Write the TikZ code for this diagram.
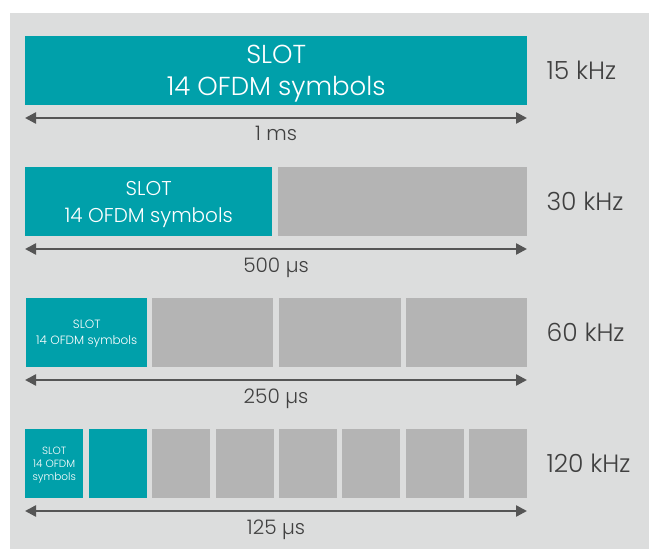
\documentclass[tikz,border=0pt]{standalone}
\usepackage{fontspec}
\setmainfont{Poppins}[UprightFont=* Light]
\usetikzlibrary{arrows.meta}
\definecolor{slotteal}{HTML}{00A0AA}
\definecolor{idlegray}{HTML}{B4B4B4}
\definecolor{panelgray}{HTML}{DCDDDD}
\definecolor{textgray}{HTML}{404040}
\definecolor{arrowgray}{HTML}{555555}
\tikzset{
  slotbox/.style={fill=slotteal, text=white, anchor=north west, inner sep=0pt,
    minimum height=69pt, align=center, text depth=0pt},
  idlebox/.style={fill=idlegray, anchor=north west, inner sep=0pt, minimum height=69pt},
  spanarrow/.style={{Triangle[length=11pt,width=11pt]}-{Triangle[length=11pt,width=11pt]},
    line width=2.4pt, draw=arrowgray},
  spanlabel/.style={text=textgray, font=\fontsize{20}{22}\selectfont},
  freqlabel/.style={text=textgray, anchor=west, font=\fontsize{25}{28}\selectfont}
}
\begin{document}
\begin{tikzpicture}[x=1pt,y=-1pt]
      \useasboundingbox (0,0) rectangle (649,549);
      \fill[panelgray] (10,13) rectangle (649,549);
      % first row
      \node[slotbox, minimum width=502pt, font=\fontsize{26}{32}\selectfont] at (25,36) (A1) {SLOT\\14 OFDM symbols};
      \coordinate (AL) at (25,118);
      \coordinate (AR) at (527,118);
      \draw[spanarrow] (AL) -- (AR) node[midway, below=4pt, spanlabel] (At) {1 ms};
      \node[freqlabel] at (543,70) (Af) {15 kHz};
      % second row
      \node[slotbox, minimum width=247pt, font=\fontsize{20}{27}\selectfont] at (25,167) (B1) {SLOT\\14 OFDM symbols};
      \node[idlebox, minimum width=249pt] at (278,167) (B2) {};
      \coordinate (BL) at (25,249);
      \coordinate (BR) at (527,249);
      \draw[spanarrow] (BL) -- (BR) node[midway, below=4pt, spanlabel] (Bt) {500 µs};
      \node[freqlabel] at (543,201) (Bf) {30 kHz};
      % third row
      \node[slotbox, minimum width=121pt, font=\fontsize{12}{16}\selectfont] at (26,298) (C1) {SLOT\\14 OFDM symbols};
      \node[idlebox, minimum width=121pt] at (152,298) (C2) {};
      \node[idlebox, minimum width=122pt] at (279,298) (C3) {};
      \node[idlebox, minimum width=121pt] at (406,298) (C4) {};
      \coordinate (CL) at (25,380);
      \coordinate (CR) at (527,380);
      \draw[spanarrow] (CL) -- (CR) node[midway, below=4pt, spanlabel] (Ct) {250 µs};
      \node[freqlabel] at (543,332) (Cf) {60 kHz};
      % fourth row
      \node[slotbox, minimum width=58pt, font=\fontsize{10.5}{13}\selectfont] at (25,429) (D1) {SLOT\\14 OFDM\\symbols};
      \node[slotbox, minimum width=58pt] at (89,429) (D2) {};
      \node[idlebox, minimum width=58pt] at (152,429) (D3) {};
      \node[idlebox, minimum width=58pt] at (216,429) (D4) {};
      \node[idlebox, minimum width=58pt] at (279,429) (D5) {};
      \node[idlebox, minimum width=58pt] at (342,429) (D6) {};
      \node[idlebox, minimum width=58pt] at (406,429) (D7) {};
      \node[idlebox, minimum width=58pt] at (469,429) (D8) {};
      \coordinate (DL) at (25,511);
      \coordinate (DR) at (527,511);
      \draw[spanarrow] (DL) -- (DR) node[midway, below=4pt, spanlabel] (Dt) {125 µs};
      \node[freqlabel] at (543,463) (Df) {120 kHz};
\end{tikzpicture}
\end{document}
